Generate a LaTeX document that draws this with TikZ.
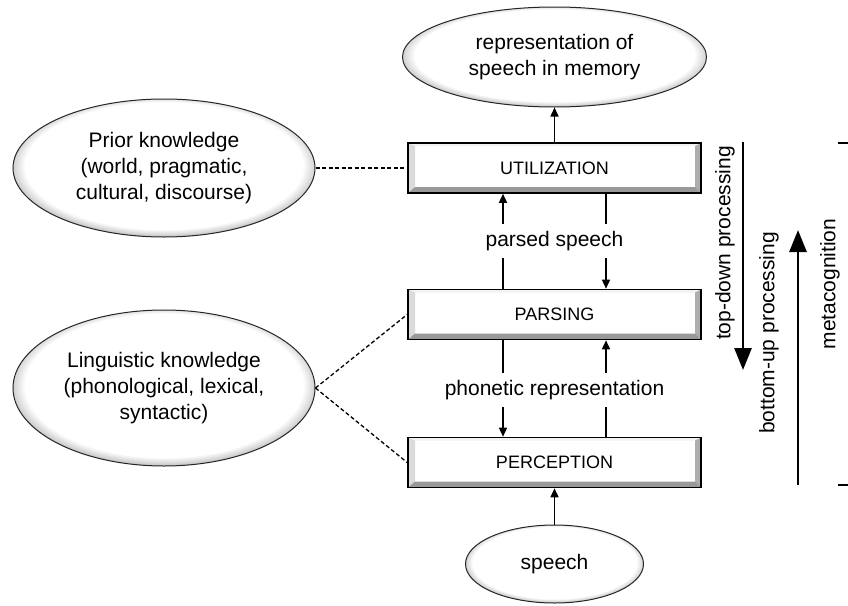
\documentclass[tikz,border=0pt]{standalone}
\usepackage{fontspec}
\setmainfont{Liberation Sans}
\usetikzlibrary{shapes.geometric,arrows.meta}
% white oval body with a soft grey rim, heavier towards the bottom
\pgfdeclareradialshading{rimshade}{\pgfpoint{0bp}{1.5bp}}{color(0bp)=(white); color(23bp)=(white); color(25bp)=(black!18); color(27bp)=(black!45); color(29bp)=(black!58); color(50bp)=(black!58)}
\begin{document}
\begin{tikzpicture}[x=1pt,y=-1pt,
  every node/.style={font=\fontsize{21}{26}\selectfont, text=black},
  oval/.style={ellipse, draw=black!85, line width=1pt, shading=rimshade, inner sep=0pt, align=center},
  stage/.style={rectangle, draw=black, line width=1.6pt, fill=white,
    minimum width=293pt, minimum height=50pt, inner sep=0pt,
    font=\fontsize{18}{20}\selectfont,
    path picture={
      \coordinate (bnw) at (path picture bounding box.north west);
      \coordinate (bne) at (path picture bounding box.north east);
      \coordinate (bsw) at (path picture bounding box.south west);
      \coordinate (bse) at (path picture bounding box.south east);
      % top face
      \fill[black!5] (bnw) -- (bne) -- ([xshift=-6pt,yshift=-3pt]bne) -- ([xshift=7pt,yshift=-3pt]bnw) -- cycle;
      % left face
      \fill[black!14] (bnw) -- (bsw) -- ([xshift=7pt,yshift=6pt]bsw) -- ([xshift=7pt,yshift=-3pt]bnw) -- cycle;
      % right face
      \fill[black!32] (bne) -- (bse) -- ([xshift=-6pt,yshift=6pt]bse) -- ([xshift=-6pt,yshift=-3pt]bne) -- cycle;
      % bottom face
      \fill[black!40] (bsw) -- (bse) -- ([xshift=-6pt,yshift=6pt]bse) -- ([xshift=7pt,yshift=6pt]bsw) -- cycle;
    }},
  flow/.style={line width=1.5pt, -{Triangle[length=9pt,width=8pt]}},
  bigflow/.style={line width=2.8pt, -{Triangle[length=22pt,width=17pt]}},
  link/.style={line width=1.3pt, dash pattern=on 4pt off 2.5pt},
  lbl/.style={fill=white, inner xsep=3pt, inner ysep=0pt, minimum height=34pt},
  side/.style={rotate=90}
]
\useasboundingbox (0,0) rectangle (848,605);

% processing stages
\node[stage] (util)   at (554.5,168)   {UTILIZATION};
\node[stage] (parse)  at (554.5,314.5) {PARSING};
\node[stage] (percep) at (554.5,462.5) {PERCEPTION};

% ovals
\node[oval, minimum width=304pt, minimum height=100pt] (mem) at (554.5,57)
  {representation of\\speech in memory};
\node[oval, minimum width=178pt, minimum height=78pt] (speech) at (554.5,564) {speech};
\node[oval, minimum width=302pt, minimum height=138pt] (prior) at (164,168)
  {Prior knowledge\\(world, pragmatic,\\cultural, discourse)};
\node[oval, minimum width=302pt, minimum height=156pt] (ling) at (164,388)
  {Linguistic knowledge\\(phonological, lexical,\\syntactic)};

% knowledge links
\draw[link] (prior.east) -- (util.west);
\draw[link] (ling.east) -- (parse.west);
\draw[link] (ling.east) -- (percep.west);

% vertical flow
\draw[flow] (util.north) -- (mem.south);
\draw[flow] (speech.north) -- (percep.south);
\draw[flow] ([xshift=-51.5pt]parse.north) -- ([xshift=-51.5pt]util.south);
\draw[flow] ([xshift=51.5pt]util.south) -- ([xshift=51.5pt]parse.north);
\draw[flow] ([xshift=-51.5pt]parse.south) -- ([xshift=-51.5pt]percep.north);
\draw[flow] ([xshift=51.5pt]percep.north) -- ([xshift=51.5pt]parse.south);

\node[lbl] (ps) at (554.5,241) {parsed speech};
\node[lbl] (pr) at (554.5,390) {phonetic representation};

% processing directions
\coordinate (tdA) at (743,142);
\coordinate (tdB) at (743,370);
\coordinate (buA) at (798,485);
\coordinate (buB) at (798,230);
\draw[bigflow] (tdA) -- (tdB);
\draw[bigflow] (buA) -- (buB);
\node[side] (td) at (725,243) {top-down processing};
\node[side] (bu) at (769,333) {bottom-up processing};
\node[side] (mc) at (830,284) {metacognition};

% metacognition span marks
\coordinate (mA) at (838,143);
\coordinate (mB) at (848,143);
\coordinate (mC) at (838,485);
\coordinate (mD) at (848,485);
\draw[line width=2pt] (mA) -- (mB);
\draw[line width=2pt] (mC) -- (mD);
\end{tikzpicture}
\end{document}
